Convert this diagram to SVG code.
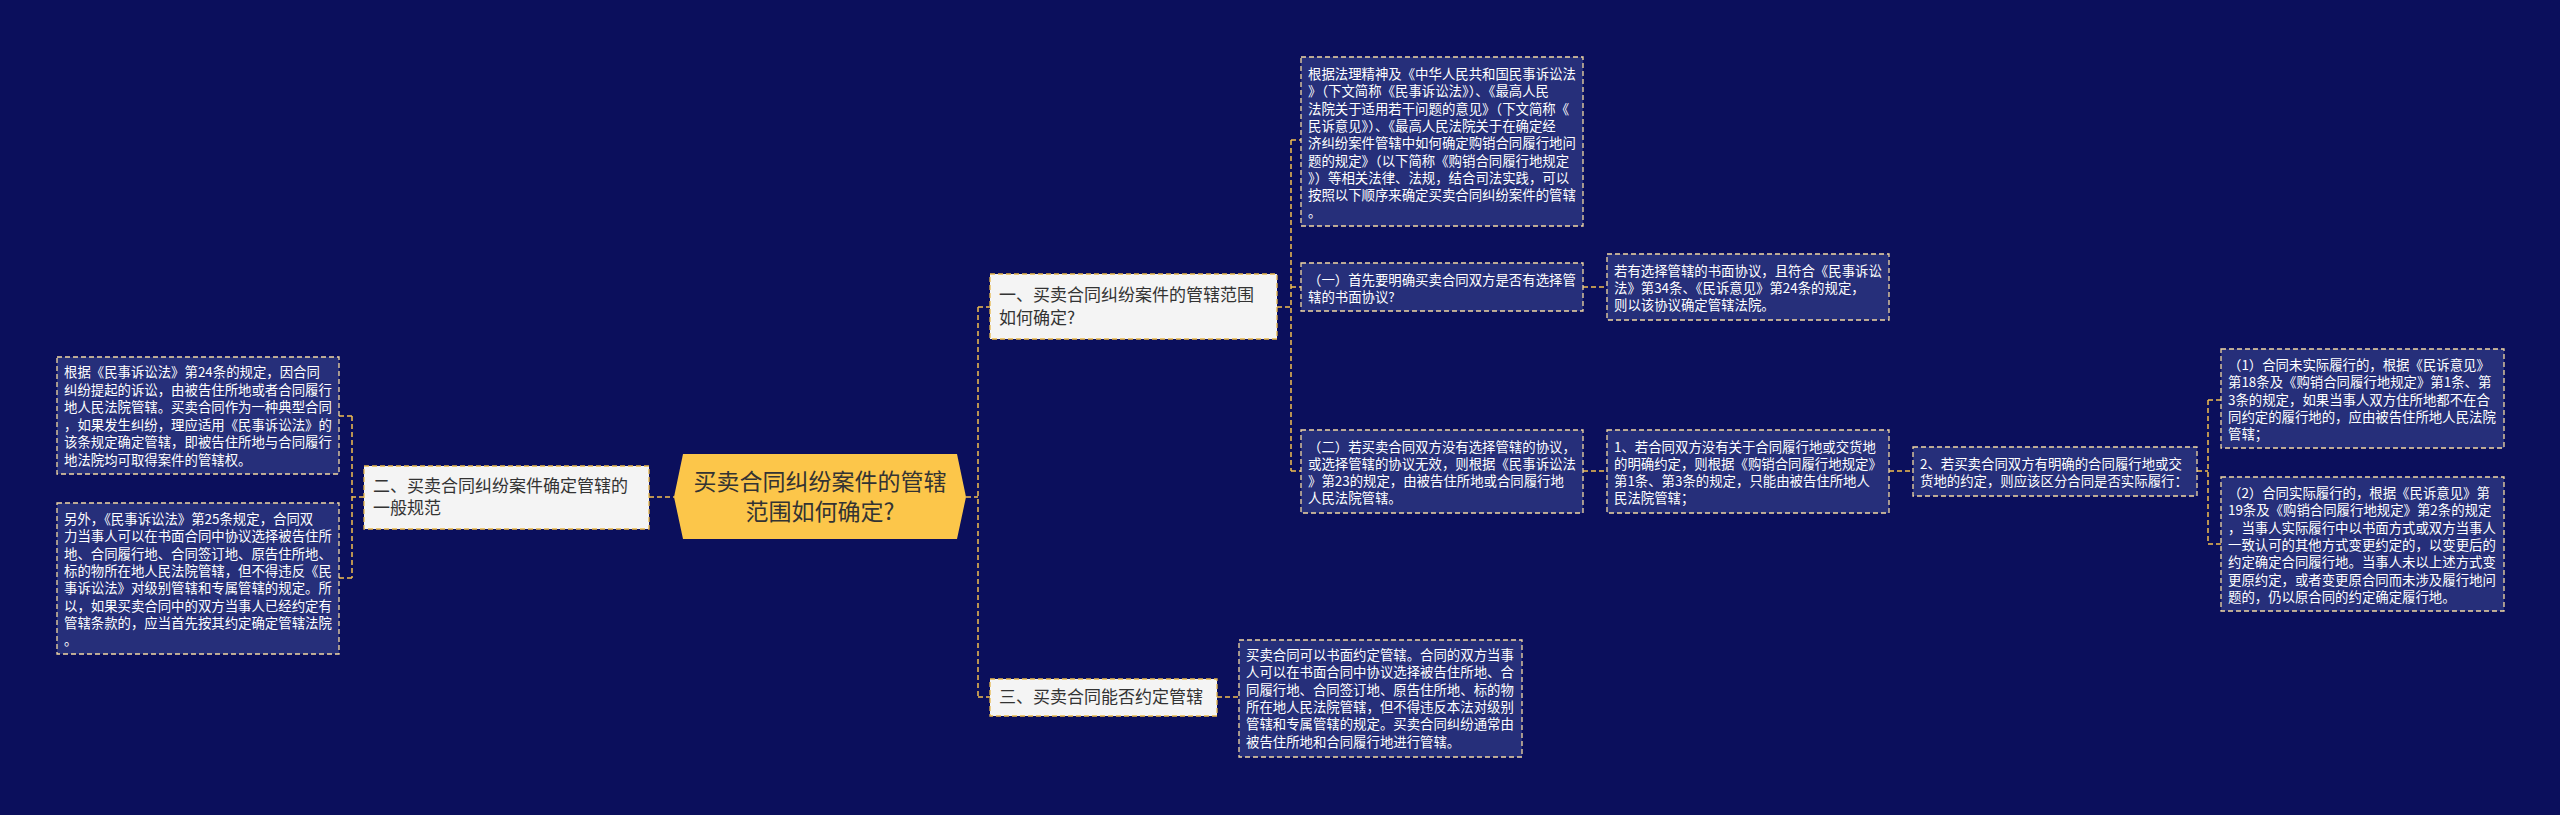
<svg xmlns="http://www.w3.org/2000/svg" width="2560" height="815" viewBox="0 0 2560 815">
<style>
.bg{fill:#0b0f5c}
.dk{fill:#262f7a;stroke:#f3d9a2;stroke-width:1.3;stroke-dasharray:5,3}
.lt{fill:#f4f4f4;stroke:#e9b84a;stroke-width:1.3;stroke-dasharray:5,3}
.t{font-family:"Noto Sans CJK SC","Noto Sans",sans-serif;font-size:13.4px;fill:#ffffff}
.lt-t{font-family:"Noto Sans CJK SC","Noto Sans",sans-serif;font-size:17px;fill:#333333}
.c{fill:none;stroke:#f3c04f;stroke-width:1.5;stroke-dasharray:5,3}
</style>
<rect class="bg" width="2560" height="815"/>
<g id="connectors">
<path class="c" d="M649,497 H674"/>
<path class="c" d="M364,497 H352 M352,416 V578 M352,416 H339 M352,578 H339"/>
<path class="c" d="M966,497 H978 M978,307 V697 M978,307 H990 M978,697 H990"/>
<path class="c" d="M1277,307 H1291 M1291,140 V471 M1291,140 H1301 M1291,287 H1301 M1291,471 H1301"/>
<path class="c" d="M1583,287 H1607"/>
<path class="c" d="M1583,471 H1607"/>
<path class="c" d="M1889,471 H1913"/>
<path class="c" d="M2197,471 H2208 M2208,400 V544 M2208,400 H2221 M2208,544 H2221"/>
<path class="c" d="M1217,697 H1239"/>
</g>
<g id="root">
<polygon points="674,497 683,454 957,454 966,497 957,539 683,539" fill="#fcc64a"/>
<text x="820" y="490" text-anchor="middle" font-family="Noto Sans CJK SC,sans-serif" font-size="23" fill="#333">买卖合同纠纷案件的管辖</text>
<text x="820" y="520" text-anchor="middle" font-family="Noto Sans CJK SC,sans-serif" font-size="23" fill="#333">范围如何确定?</text>
</g>
<g id="n2">
<rect class="lt" x="364" y="466" width="285" height="63"/>
<text class="lt-t" x="373" y="492">二、买卖合同纠纷案件确定管辖的</text>
<text class="lt-t" x="373" y="514">一般规范</text>
</g>
<g id="n2a">
<rect class="dk" x="57" y="357" width="282" height="117"/>
<text class="t"><tspan x="64" y="377">根据《民事诉讼法》第24条的规定，因合同</tspan><tspan x="64" y="394.5">纠纷提起的诉讼，由被告住所地或者合同履行</tspan><tspan x="64" y="412">地人民法院管辖。买卖合同作为一种典型合同</tspan><tspan x="64" y="429.5">，如果发生纠纷，理应适用《民事诉讼法》的</tspan><tspan x="64" y="447">该条规定确定管辖，即被告住所地与合同履行</tspan><tspan x="64" y="464.5">地法院均可取得案件的管辖权。</tspan></text>
</g>
<g id="n2b">
<rect class="dk" x="57" y="503" width="282" height="151"/>
<text class="t"><tspan x="64" y="524">另外，《民事诉讼法》第25条规定，合同双</tspan><tspan x="64" y="541.3">力当事人可以在书面合同中协议选择被告住所</tspan><tspan x="64" y="558.6">地、合同履行地、合同签订地、原告住所地、</tspan><tspan x="64" y="575.9">标的物所在地人民法院管辖，但不得违反《民</tspan><tspan x="64" y="593.2">事诉讼法》对级别管辖和专属管辖的规定。所</tspan><tspan x="64" y="610.5">以，如果买卖合同中的双方当事人已经约定有</tspan><tspan x="64" y="627.8">管辖条款的，应当首先按其约定确定管辖法院</tspan><tspan x="64" y="645.1">。</tspan></text>
</g>
<g id="n1">
<rect class="lt" x="990" y="274" width="287" height="65"/>
<text class="lt-t" x="999" y="301">一、买卖合同纠纷案件的管辖范围</text>
<text class="lt-t" x="999" y="324">如何确定?</text>
</g>
<g id="n3">
<rect class="lt" x="990" y="679" width="227" height="37"/>
<text class="lt-t" x="999" y="703">三、买卖合同能否约定管辖</text>
</g>
<g id="n1a">
<rect class="dk" x="1301" y="57" width="282" height="169"/>
<text class="t"><tspan x="1308" y="79">根据法理精神及《中华人民共和国民事诉讼法</tspan><tspan x="1308" y="96.3">》（下文简称《民事诉讼法》）、《最高人民</tspan><tspan x="1308" y="113.6">法院关于适用若干问题的意见》（下文简称《</tspan><tspan x="1308" y="130.9">民诉意见》）、《最高人民法院关于在确定经</tspan><tspan x="1308" y="148.2">济纠纷案件管辖中如何确定购销合同履行地问</tspan><tspan x="1308" y="165.5">题的规定》（以下简称《购销合同履行地规定</tspan><tspan x="1308" y="182.8">》）等相关法律、法规，结合司法实践，可以</tspan><tspan x="1308" y="200.1">按照以下顺序来确定买卖合同纠纷案件的管辖</tspan><tspan x="1308" y="217.4">。</tspan></text>
</g>
<g id="n1b">
<rect class="dk" x="1301" y="263" width="282" height="48"/>
<text class="t"><tspan x="1308" y="285">（一）首先要明确买卖合同双方是否有选择管</tspan><tspan x="1308" y="302">辖的书面协议?</tspan></text>
</g>
<g id="n1b1">
<rect class="dk" x="1607" y="254" width="282" height="66"/>
<text class="t"><tspan x="1614" y="276">若有选择管辖的书面协议，且符合《民事诉讼</tspan><tspan x="1614" y="293">法》第34条、《民诉意见》第24条的规定，</tspan><tspan x="1614" y="310">则以该协议确定管辖法院。</tspan></text>
</g>
<g id="n1c">
<rect class="dk" x="1301" y="430" width="282" height="83"/>
<text class="t"><tspan x="1308" y="452">（二）若买卖合同双方没有选择管辖的协议，</tspan><tspan x="1308" y="469">或选择管辖的协议无效，则根据《民事诉讼法</tspan><tspan x="1308" y="486">》第23的规定，由被告住所地或合同履行地</tspan><tspan x="1308" y="503">人民法院管辖。</tspan></text>
</g>
<g id="n1c1">
<rect class="dk" x="1607" y="430" width="282" height="83"/>
<text class="t"><tspan x="1614" y="452">1、若合同双方没有关于合同履行地或交货地</tspan><tspan x="1614" y="469">的明确约定，则根据《购销合同履行地规定》</tspan><tspan x="1614" y="486">第1条、第3条的规定，只能由被告住所地人</tspan><tspan x="1614" y="503">民法院管辖；</tspan></text>
</g>
<g id="n1c2">
<rect class="dk" x="1913" y="447" width="284" height="49"/>
<text class="t"><tspan x="1920" y="469">2、若买卖合同双方有明确的合同履行地或交</tspan><tspan x="1920" y="486">货地的约定，则应该区分合同是否实际履行：</tspan></text>
</g>
<g id="n1c2a">
<rect class="dk" x="2221" y="349" width="283" height="99"/>
<text class="t"><tspan x="2228" y="370">（1）合同未实际履行的，根据《民诉意见》</tspan><tspan x="2228" y="387.3">第18条及《购销合同履行地规定》第1条、第</tspan><tspan x="2228" y="404.6">3条的规定，如果当事人双方住所地都不在合</tspan><tspan x="2228" y="421.9">同约定的履行地的，应由被告住所地人民法院</tspan><tspan x="2228" y="439.2">管辖；</tspan></text>
</g>
<g id="n1c2b">
<rect class="dk" x="2221" y="477" width="283" height="134"/>
<text class="t"><tspan x="2228" y="498">（2）合同实际履行的，根据《民诉意见》第</tspan><tspan x="2228" y="515.3">19条及《购销合同履行地规定》第2条的规定</tspan><tspan x="2228" y="532.6">，当事人实际履行中以书面方式或双方当事人</tspan><tspan x="2228" y="549.9">一致认可的其他方式变更约定的，以变更后的</tspan><tspan x="2228" y="567.2">约定确定合同履行地。当事人未以上述方式变</tspan><tspan x="2228" y="584.5">更原约定，或者变更原合同而未涉及履行地问</tspan><tspan x="2228" y="601.8">题的，仍以原合同的约定确定履行地。</tspan></text>
</g>
<g id="n3a">
<rect class="dk" x="1239" y="640" width="283" height="117"/>
<text class="t"><tspan x="1246" y="660">买卖合同可以书面约定管辖。合同的双方当事</tspan><tspan x="1246" y="677.3">人可以在书面合同中协议选择被告住所地、合</tspan><tspan x="1246" y="694.6">同履行地、合同签订地、原告住所地、标的物</tspan><tspan x="1246" y="711.9">所在地人民法院管辖，但不得违反本法对级别</tspan><tspan x="1246" y="729.2">管辖和专属管辖的规定。买卖合同纠纷通常由</tspan><tspan x="1246" y="746.5">被告住所地和合同履行地进行管辖。</tspan></text>
</g>
</svg>
